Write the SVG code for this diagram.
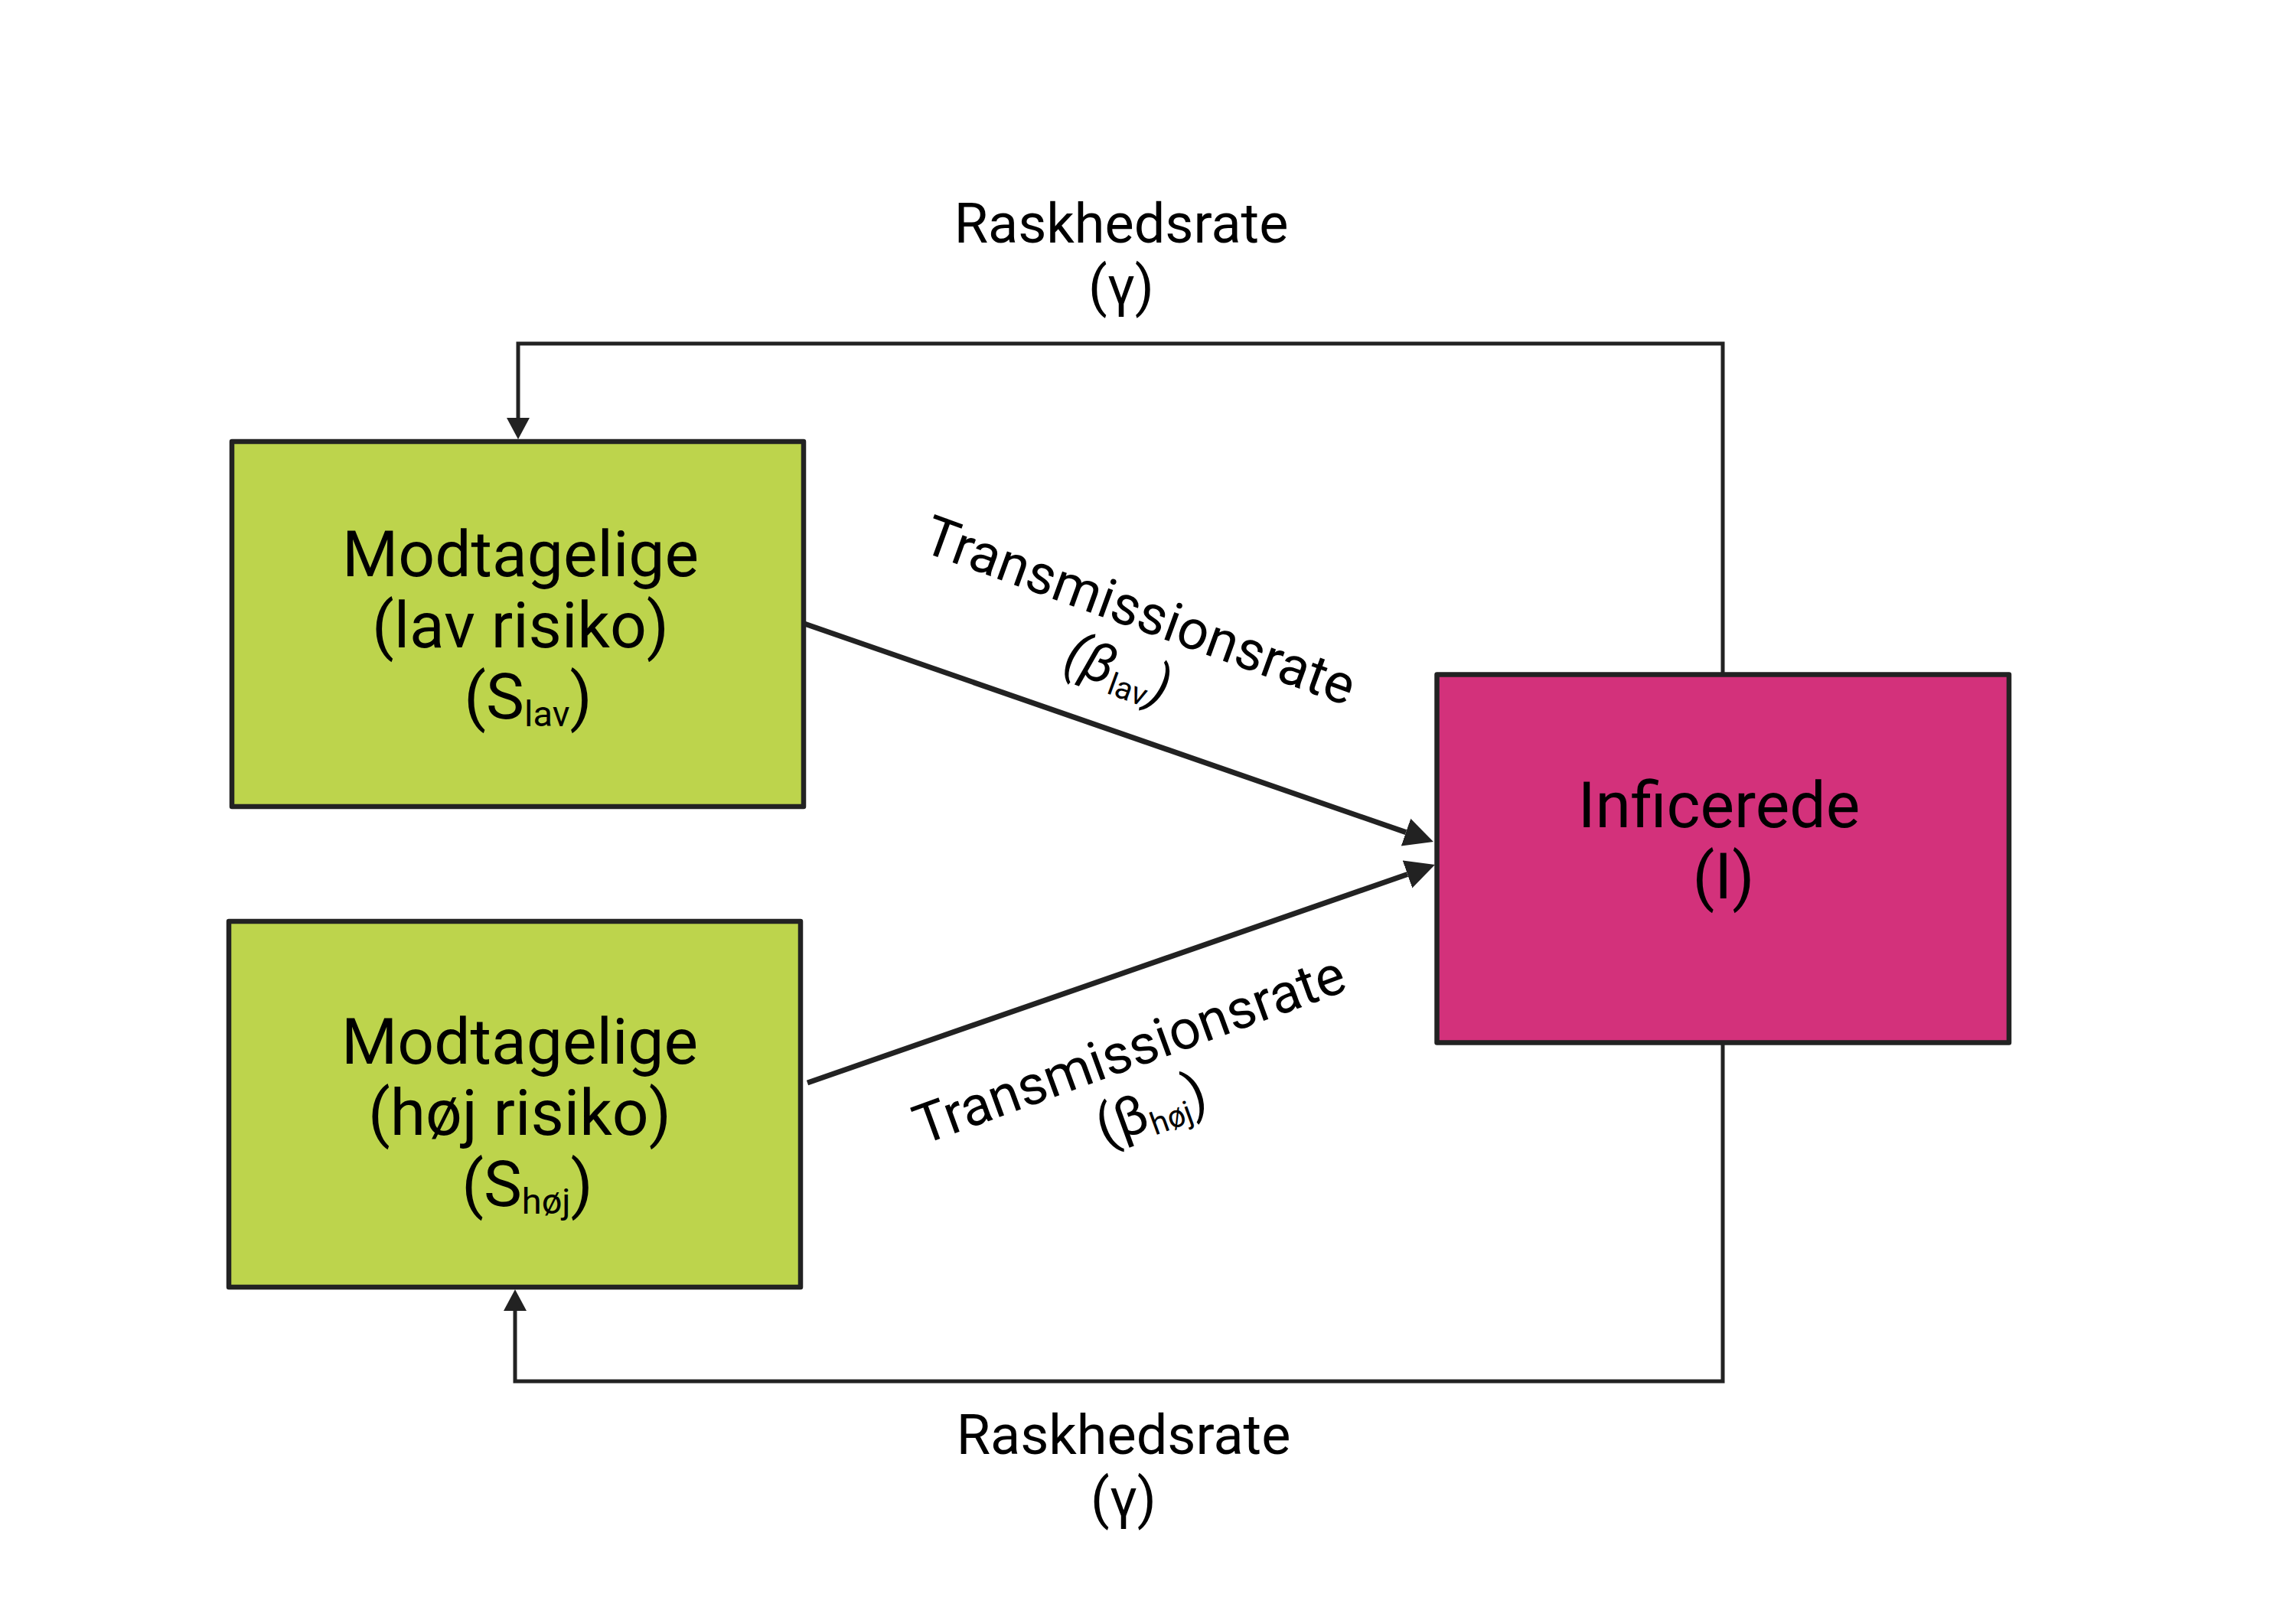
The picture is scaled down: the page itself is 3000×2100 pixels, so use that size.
<svg xmlns="http://www.w3.org/2000/svg" width="3000" height="2100" viewBox="0 0 3000 2100">
<style>
.box{stroke:#222;stroke-width:6.5;stroke-linejoin:round}
.green{fill:#BDD44C}
.pink{fill:#D3317B}
.lbl{font-family:Roboto,"Liberation Sans",sans-serif;fill:#000;text-anchor:middle}
.big{font-size:84px}
.mid{font-size:72px}
.sub{font-size:47px}
.subm{font-size:41px}
.conn{fill:none;stroke:#222;stroke-width:5}
.diag{fill:none;stroke:#222;stroke-width:7}
</style>
<defs>
<marker id="arrowBig" markerUnits="userSpaceOnUse" markerWidth="40" markerHeight="40" viewBox="0 -20 40 40" refX="0" refY="0" orient="auto">
<path d="M0,-19 L38,0 L0,19 Z" fill="#222"/>
</marker>
<marker id="arrowSmall" markerUnits="userSpaceOnUse" markerWidth="32" markerHeight="32" viewBox="0 -16 32 32" refX="0" refY="0" orient="auto">
<path d="M0,-15 L28,0 L0,15 Z" fill="#222"/>
</marker>
</defs>
<rect width="3000" height="2100" fill="#fff"/>

<g id="connectors">
<path class="conn" d="M2251,881.5 V449 H677 V546" marker-end="url(#arrowSmall)"/>
<path class="conn" d="M2251,1362.5 V1805 H673 V1713" marker-end="url(#arrowSmall)"/>
<path class="diag" d="M1051,815 L1837,1087.6" marker-end="url(#arrowBig)"/>
<path class="diag" d="M1055,1415 L1839,1142.5" marker-end="url(#arrowBig)"/>
</g>

<g id="node-s-lav">
<rect class="box green" x="303" y="577" width="747" height="477"/>
<text class="lbl big" x="680" y="753">Modtagelige</text>
<text class="lbl big" x="680" y="846">(lav risiko)</text>
<text class="lbl big" x="690" y="939">(S<tspan class="sub" dy="10">lav</tspan><tspan dy="-10">)</tspan></text>
</g>

<g id="node-s-hoj">
<rect class="box green" x="299" y="1204" width="747" height="478"/>
<text class="lbl big" x="679" y="1390">Modtagelige</text>
<text class="lbl big" x="679" y="1483">(høj risiko)</text>
<text class="lbl big" x="689" y="1576">(S<tspan class="sub" dy="10">høj</tspan><tspan dy="-10">)</tspan></text>
</g>

<g id="node-i">
<rect class="box pink" x="1877.5" y="881.5" width="747.5" height="481"/>
<text class="lbl big" x="2246" y="1081">Inficerede</text>
<text class="lbl big" x="2252" y="1174">(I)</text>
</g>

<g id="label-gamma-top">
<text class="lbl mid" x="1465" y="317">Raskhedsrate</text>
<text class="lbl mid" x="1465" y="399">(γ)</text>
</g>

<g id="label-gamma-bottom">
<text class="lbl mid" x="1468" y="1900">Raskhedsrate</text>
<text class="lbl mid" x="1468" y="1983">(γ)</text>
</g>

<g id="label-beta-lav" transform="translate(1481,821) rotate(20)">
<text class="lbl mid" x="0" y="0">Transmissionsrate</text>
<text class="lbl mid" x="0" y="82"><tspan font-style="italic">(β</tspan><tspan class="subm" dy="10">lav</tspan><tspan dy="-10" font-style="italic">)</tspan></text>
</g>

<g id="label-beta-hoj" transform="translate(1484,1395) rotate(-20)">
<text class="lbl mid" x="0" y="0">Transmissionsrate</text>
<text class="lbl mid" x="0" y="82">(β<tspan class="subm" dy="10">høj</tspan><tspan dy="-10">)</tspan></text>
</g>
</svg>
